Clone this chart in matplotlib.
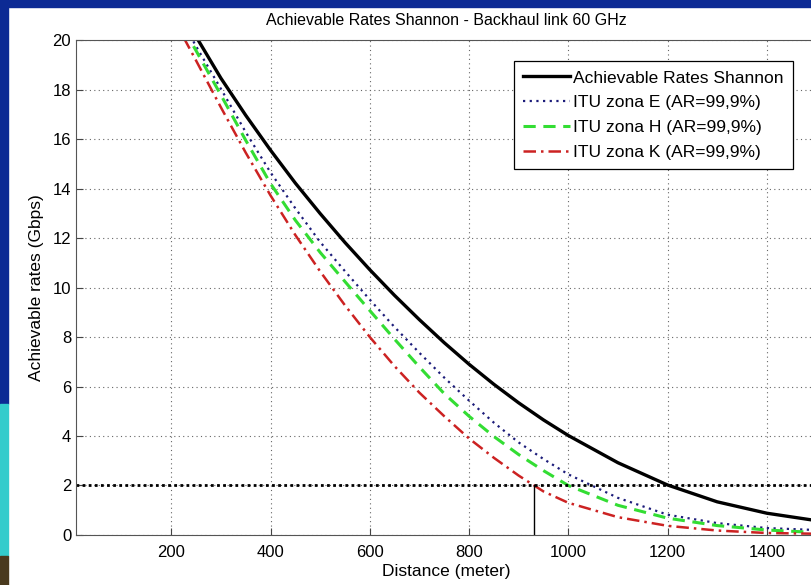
import matplotlib
matplotlib.use("Agg")
import matplotlib.pyplot as plt
from matplotlib.patches import Rectangle

plt.rcParams['font.family'] = ['Liberation Sans', 'DejaVu Sans']

# distance samples (meter)
distance = [225, 250, 300, 350, 400, 450, 500, 550, 600, 650, 700, 750, 800,
            850, 900, 950, 1000, 1100, 1200, 1300, 1400, 1500]

# achievable rates (Gbps)
shannon = [21.0, 20.14, 18.46, 16.96, 15.55, 14.22, 12.99, 11.82, 10.72, 9.68, 8.70, 7.77, 6.90,
           6.09, 5.34, 4.65, 4.02, 2.92, 2.02, 1.34, 0.88, 0.58]
zona_e = [20.65, 19.75, 18.03, 16.28, 14.65, 13.2, 11.84, 10.66, 9.51, 8.4, 7.36, 6.36, 5.43,
          4.54, 3.74, 3.07, 2.45, 1.5, 0.82, 0.48, 0.28, 0.2]
zona_h = [20.45, 19.57, 17.78, 15.95, 14.2, 12.72, 11.42, 10.24, 9.07, 7.91, 6.79, 5.71, 4.8,
          3.98, 3.25, 2.6, 2.0, 1.2, 0.68, 0.38, 0.2, 0.1]
zona_k = [20.1, 19.17, 17.28, 15.45, 13.72, 12.12, 10.65, 9.28, 8.0, 6.82, 5.75, 4.8, 3.9,
          3.12, 2.4, 1.76, 1.3, 0.72, 0.37, 0.18, 0.08, 0.05]

target_rate = 2
target_dist = 930

labels = ['Achievable Rates Shannon', 'ITU zona E (AR=99,9%)',
          'ITU zona H (AR=99,9%)', 'ITU zona K (AR=99,9%)']

fig = plt.figure(figsize=(8.11, 5.85), dpi=100)
fig.patch.set_facecolor('white')

# slide background pieces around the screenshot
fig.patches.append(Rectangle((0, 0.988), 1, 0.012, transform=fig.transFigure,
                             color='#0c2a94', zorder=-5))
fig.patches.append(Rectangle((0, 0.31), 0.0099, 0.69, transform=fig.transFigure,
                             color='#0c2a94', zorder=-5))
fig.patches.append(Rectangle((0, 0.05), 0.0099, 0.26, transform=fig.transFigure,
                             color='#33cccc', zorder=-5))
fig.patches.append(Rectangle((0, 0), 0.0099, 0.05, transform=fig.transFigure,
                             color='#4a3a1e', zorder=-5))

ax = fig.add_axes([0.0937, 0.0855, 0.913, 0.846])

ax.plot(distance, shannon, color='black', lw=2.4, label=labels[0])
ax.plot(distance, zona_e, color='#1c1c7a', lw=1.6, ls=(0, (1, 2)), label=labels[1])
ax.plot(distance, zona_h, color='#33dd33', lw=2.2, ls=(0, (4, 2.5)), label=labels[2])
ax.plot(distance, zona_k, color='#cc2222', lw=1.8, ls=(0, (5, 2, 1, 2)), label=labels[3])

ax.axhline(target_rate, color='black', lw=2.0, ls=(0, (1, 1.2)))
ax.plot([target_dist, target_dist], [0, target_rate], color='black', lw=1.0)

ax.set_xlim(8, 1500)
ax.set_ylim(0, 20)
ax.set_xticks(range(200, 1401, 200))
ax.set_yticks(range(0, 21, 2))
ax.tick_params(direction='in', labelsize=12, length=5, color='#444444')
ax.tick_params(axis='x', pad=7)
ax.grid(True, color='#666666', ls=(0, (1, 3)), lw=0.8)
for s in ax.spines.values():
    s.set_color('#555555')

ax.set_title('Achievable Rates Shannon - Backhaul link 60 GHz', fontsize=11.5, pad=11)
ax.set_xlabel('Distance (meter)', fontsize=12.5, labelpad=3)
ax.set_ylabel('Achievable rates (Gbps)', fontsize=12.5, labelpad=6)

leg = ax.legend(loc='upper right', bbox_to_anchor=(0.969, 0.958), borderaxespad=0,
                fontsize=12.5, fancybox=False, framealpha=1, edgecolor='black',
                handlelength=2.7, handletextpad=0.2, labelspacing=0.55,
                borderpad=0.55)
leg.get_frame().set_linewidth(0.9)

fig.savefig('out.png', dpi=100)
